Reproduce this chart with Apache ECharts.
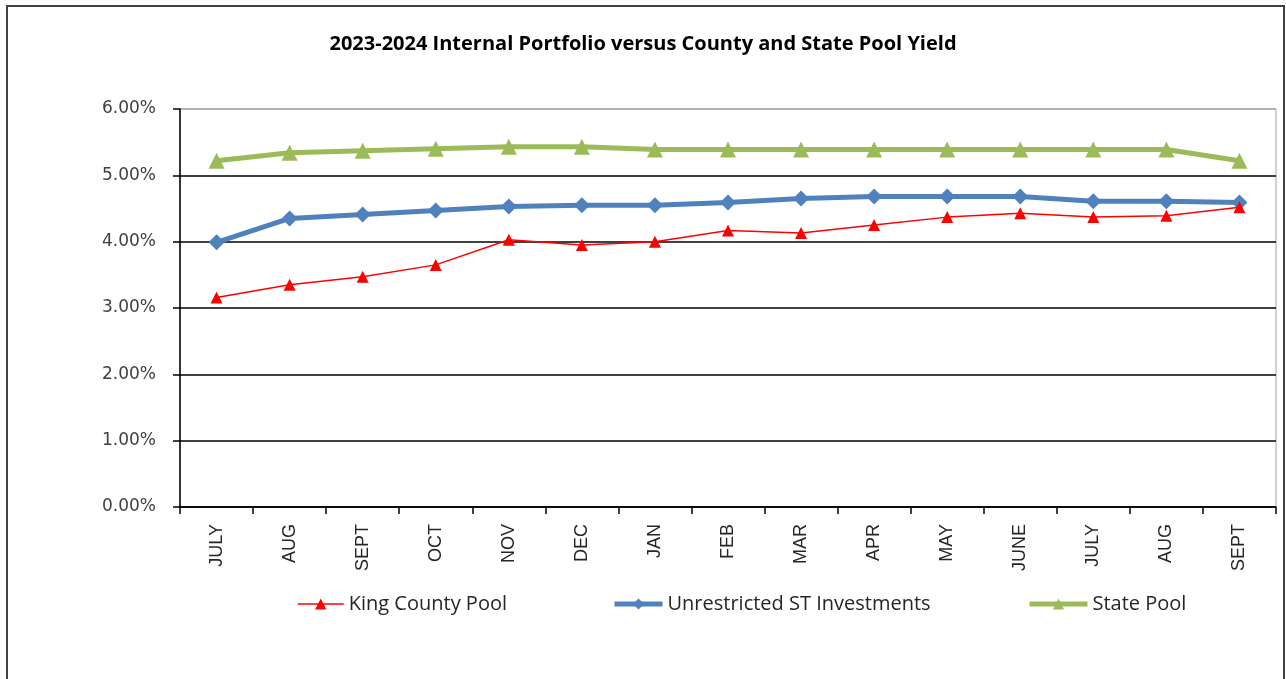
<!DOCTYPE html>
<html>
<head>
<meta charset="utf-8">
<script src="https://cdn.jsdelivr.net/npm/echarts@6/dist/echarts.min.js"></script>
<style>html,body{margin:0;padding:0;background:#fff;}#c{width:1286px;height:679px;}</style>
</head>
<body>
<div id="c"></div>
<script>
const titleText = '2023-2024 Internal Portfolio versus County and State Pool Yield';
const categories = ['JULY','AUG','SEPT','OCT','NOV','DEC','JAN','FEB','MAR','APR','MAY','JUNE','JULY','AUG','SEPT'];
const kingCounty = [3.16, 3.35, 3.47, 3.65, 4.03, 3.95, 4.00, 4.17, 4.13, 4.25, 4.37, 4.43, 4.37, 4.39, 4.52];
const unrestricted = [3.99, 4.35, 4.41, 4.47, 4.53, 4.55, 4.55, 4.59, 4.65, 4.68, 4.68, 4.68, 4.61, 4.61, 4.59];
const statePool = [5.22, 5.34, 5.37, 5.40, 5.43, 5.43, 5.39, 5.39, 5.39, 5.39, 5.39, 5.39, 5.39, 5.39, 5.22];
const seriesNames = ['King County Pool', 'Unrestricted ST Investments', 'State Pool'];
const yTicks = [0, 1, 2, 3, 4, 5, 6];

const chart = echarts.init(document.getElementById('c'), null, {renderer: 'canvas'});
const legendFont = {fontFamily: '"Open Sans", Lato, sans-serif', fontSize: 20, color: '#262626'};
chart.setOption({
  animation: false,
  backgroundColor: '#fff',
  title: {
    text: titleText,
    left: 'center',
    top: 29,
    textStyle: {fontFamily: '"Open Sans", Lato, sans-serif', fontWeight: 'bold', fontSize: 20, color: '#000'}
  },
  graphic: [{
    type: 'rect',
    shape: {x: 7, y: 6, width: 1277, height: 720},
    style: {fill: 'none', stroke: '#404040', lineWidth: 2},
    silent: true
  }],
  legend: [
    {data: [seriesNames[0]], left: 297, top: 594, padding: 0, itemWidth: 46, itemHeight: 14, itemGap: 4, textStyle: legendFont,
      lineStyle: {width: 1.5}},
    {data: [seriesNames[1]], left: 612, top: 594, padding: 0, itemWidth: 48, itemHeight: 14, itemGap: 4, textStyle: legendFont,
      lineStyle: {width: 5}},
    {data: [seriesNames[2]], left: 1027, top: 594, padding: 0, itemWidth: 58, itemHeight: 14, itemGap: 4, textStyle: legendFont,
      lineStyle: {width: 5}}
  ],
  grid: {left: 180, right: 10, top: 109, bottom: 172, show: true, borderColor: '#a6a6a6', borderWidth: 1},
  xAxis: {
    type: 'category',
    data: categories,
    boundaryGap: true,
    axisLine: {lineStyle: {color: '#000', width: 1.5}},
    axisTick: {show: true, length: 7, inside: false, alignWithLabel: false, lineStyle: {color: '#000', width: 1.5}},
    axisLabel: {rotate: 90, margin: 17, fontFamily: '"Liberation Sans", Arial, sans-serif', fontSize: 18, color: '#262626', interval: 0}
  },
  yAxis: {
    type: 'value',
    min: yTicks[0],
    max: yTicks[yTicks.length - 1],
    interval: 1,
    axisLine: {show: true, lineStyle: {color: '#000', width: 1.5}},
    axisTick: {show: true, length: 7, lineStyle: {color: '#000', width: 1.5}},
    axisLabel: {margin: 24, fontFamily: '"DejaVu Sans", sans-serif', fontSize: 17, color: '#404040',
      formatter: v => v.toFixed(2) + '%'},
    splitLine: {show: true, lineStyle: {color: ['#000','#000','#000','#000','#000','#000','#a6a6a6'], width: 1.5}}
  },
  series: [
    {
      name: seriesNames[0], type: 'line', data: kingCounty,
      symbol: 'triangle', symbolSize: 12, z: 4,
      lineStyle: {color: '#ff0000', width: 1.5},
      itemStyle: {color: '#ff0000'}
    },
    {
      name: seriesNames[1], type: 'line', data: unrestricted,
      symbol: 'diamond', symbolSize: 16, z: 3,
      lineStyle: {color: '#4f81bd', width: 5},
      itemStyle: {color: '#4f81bd'}
    },
    {
      name: seriesNames[2], type: 'line', data: statePool,
      symbol: 'triangle', symbolSize: 16, z: 3,
      lineStyle: {color: '#9bbb59', width: 5},
      itemStyle: {color: '#9bbb59'}
    }
  ]
});
</script>
</body>
</html>
